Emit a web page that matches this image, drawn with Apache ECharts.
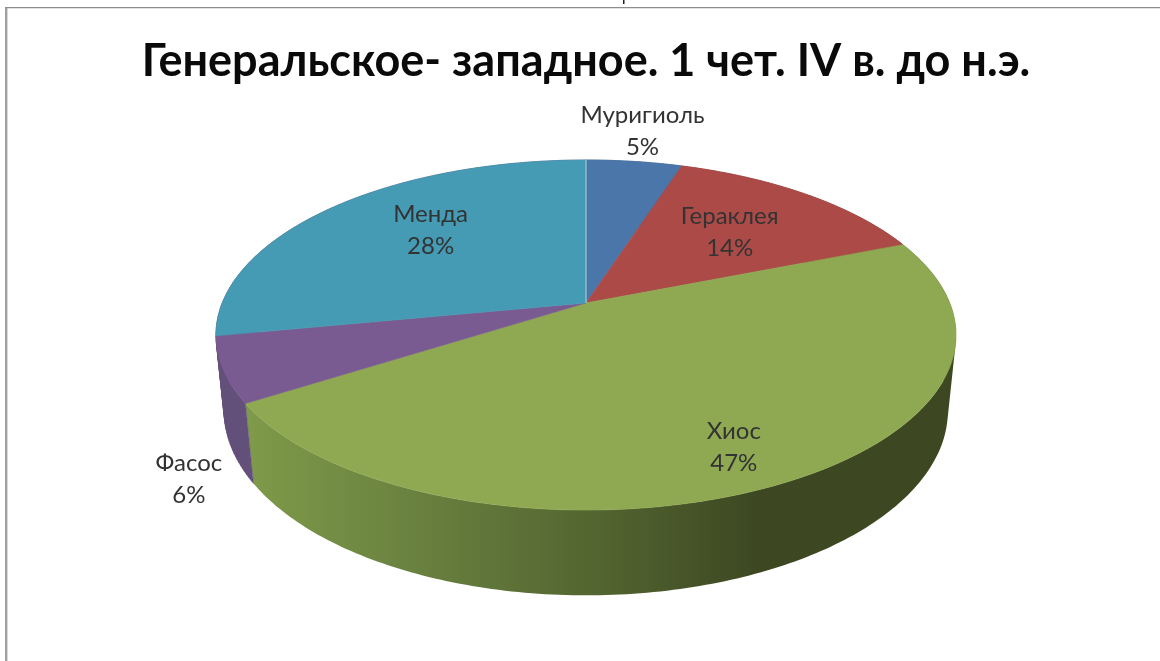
<!DOCTYPE html>
<html><head><meta charset="utf-8">
<style>html,body{margin:0;padding:0;background:#fff}#c{width:1160px;height:661px}</style>
<script src="https://cdn.jsdelivr.net/npm/echarts@6/dist/echarts.min.js"></script>
</head><body><div id="c"></div>
<script>
const titleText = 'Генеральское- западное. 1 чет. IV в. до н.э.';
const categories = ['Муригиоль', 'Гераклея', 'Хиос', 'Фасос', 'Менда'];
const values = [5, 14, 47, 6, 28];
const faceColors = ['#4b76a9', '#ac4a47', '#8fa953', '#7a5b91', '#459ab4'];
const wallColors = ['#3a5a82', '#833836', null, '#63507b', '#63507b'];
// label placement on the pie plane: radius fraction and position round the circle in percent
const labelRadius = [1.271, 0.63, 0.815, 1.266, 0.665];
const labelPercent = [2.4, 11.9, 42.9, 62.9, 87.7];

// perspective projection of the tilted disc (z = 0 top face, z = -1 bottom face)
const cam = {cx: 586, y0: 303, f: 363.8, g: 169.2, h: 76, k: 0.1829, m: 0.0217};
function project(r, pct, z) {
  const t = pct / 100 * Math.PI * 2;
  const X = r * Math.sin(t), Y = r * Math.cos(t);
  const den = 1 + cam.k * Y - cam.m * z;
  return [cam.cx + cam.f * X / den, cam.y0 - (cam.g * Y + cam.h * z) / den];
}
function arc(p0, p1, z) {
  const n = Math.max(8, Math.ceil((p1 - p0) * 4)), pts = [];
  for (let i = 0; i <= n; i++) pts.push(project(1, p0 + (p1 - p0) * i / n, z));
  return pts;
}
const total = values.reduce((a, b) => a + b, 0);
function range(i) {
  let s = 0;
  for (let j = 0; j < i; j++) s += values[j];
  return [s / total * 100, (s + values[i]) / total * 100];
}
// all wall quads in one path, same winding, so no seams and the silhouette is complete
function wallPath(low, high) {
  let d = '';
  for (let j = 0; j < low.length - 1; j++) {
    let q = [low[j], low[j + 1], high[j + 1], high[j]];
    let area = 0;
    for (let n = 0; n < 4; n++) {
      const a = q[n], b = q[(n + 1) % 4];
      area += a[0] * b[1] - b[0] * a[1];
    }
    if (area < 0) q = q.slice().reverse();
    d += 'M' + q.map(p => p[0].toFixed(2) + ' ' + p[1].toFixed(2)).join('L') + 'Z';
  }
  return d;
}
const greenWall = new echarts.graphic.LinearGradient(246, 0, 956, 0, [
  {offset: 0, color: '#7f9a49'},
  {offset: 0.22, color: '#6b8340'},
  {offset: 0.5, color: '#526430'},
  {offset: 0.72, color: '#3d4822'},
  {offset: 1, color: '#3d4822'}
], true);

const chart = echarts.init(document.getElementById('c'), null, {renderer: 'canvas'});
const seriesData = categories.map((n, i) => ({name: n, value: values[i]}));
chart.setOption({
  backgroundColor: '#fff',
  animation: false,
  title: {
    text: titleText, left: 581, top: 34, textAlign: 'center',
    textStyle: {fontFamily: 'Lato, "Open Sans", sans-serif', fontWeight: 'bold', fontSize: 45, color: '#0a0a0a'}
  },
  graphic: [
    {type: 'rect', shape: {x: 5, y: 7, width: 2.4, height: 660}, style: {fill: '#a0a0a0'}, silent: true},
    {type: 'rect', shape: {x: 5, y: 7, width: 1160, height: 1.3}, style: {fill: '#8c8c8c'}, silent: true},
    {type: 'rect', shape: {x: 623, y: 0, width: 1.5, height: 4}, style: {fill: '#222'}, silent: true}
  ],
  series: [
    {
      type: 'custom', coordinateSystem: 'none', silent: true, z: 1, data: seriesData,
      renderItem(params) {
        const i = params.dataIndex, [a, b] = range(i);
        return {type: 'path', shape: {pathData: wallPath(arc(a, b, -1), arc(a, b, 0))},
          style: {fill: wallColors[i] || greenWall, stroke: wallColors[i] || 'none', lineWidth: 0.5}};
      }
    },
    {
      type: 'custom', coordinateSystem: 'none', silent: true, z: 2, data: seriesData,
      renderItem(params) {
        const i = params.dataIndex, [a, b] = range(i);
        const pts = [[cam.cx, cam.y0]].concat(arc(a, b, 0));
        return {type: 'polygon', shape: {points: pts},
          style: {fill: faceColors[i], stroke: faceColors[i], lineWidth: 0.6}};
      }
    },
    {
      type: 'custom', coordinateSystem: 'none', silent: true, z: 3, data: seriesData.slice(0, 1),
      renderItem() {
        return {type: 'polyline', shape: {points: [[cam.cx, cam.y0], project(1, 0, 0)]},
          style: {fill: 'none', stroke: '#a6c6d6', lineWidth: 1.2}};
      }
    },
    {
      type: 'custom', coordinateSystem: 'none', silent: true, z: 4, data: seriesData,
      renderItem(params) {
        const i = params.dataIndex;
        const p = project(labelRadius[i], labelPercent[i], 0);
        return {type: 'text', style: {
          text: categories[i] + '\n' + Math.round(values[i] / total * 100) + '%',
          x: p[0], y: p[1] + 1, align: 'center', verticalAlign: 'middle',
          fontFamily: 'Lato, "Open Sans", sans-serif', fontSize: 24, lineHeight: 32, fill: '#333'
        }};
      }
    }
  ]
});
</script></body></html>
